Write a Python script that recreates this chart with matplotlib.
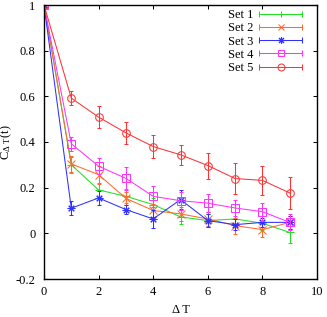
import matplotlib
matplotlib.use("Agg")
import matplotlib.pyplot as plt
from matplotlib.legend_handler import HandlerBase
from matplotlib.lines import Line2D

plt.rcParams['font.family'] = ['Liberation Serif', 'DejaVu Serif']
plt.rcParams['mathtext.default'] = 'regular'
plt.rcParams['font.size'] = 9

dt = [0, 1, 2, 3, 4, 5, 6, 7, 8, 9]

set1 = [1.0, 0.30, 0.19, 0.162, 0.126, 0.072, 0.056, 0.063, 0.044, 0.004]
set1_err = [0.0, 0.035, 0.03, 0.03, 0.03, 0.03, 0.03, 0.03, 0.03, 0.045]
set2 = [1.0, 0.304, 0.257, 0.153, 0.10, 0.085, 0.063, 0.034, 0.016, 0.048]
set2_err = [0.0, 0.035, 0.04, 0.03, 0.03, 0.03, 0.03, 0.035, 0.03, 0.03]
set3 = [1.0, 0.11, 0.155, 0.104, 0.063, 0.148, 0.056, 0.038, 0.048, 0.048]
set3_err = [0.0, 0.03, 0.03, 0.02, 0.04, 0.042, 0.03, 0.025, 0.02, 0.03]
set4 = [1.0, 0.392, 0.294, 0.241, 0.162, 0.143, 0.132, 0.111, 0.095, 0.048]
set4_err = [0.0, 0.03, 0.035, 0.05, 0.045, 0.04, 0.04, 0.035, 0.04, 0.035]
set5 = [1.0, 0.592, 0.509, 0.44, 0.38, 0.344, 0.297, 0.24, 0.232, 0.177]
set5_err = [0.0, 0.03, 0.047, 0.047, 0.05, 0.045, 0.057, 0.067, 0.065, 0.07]

labels = ['Set 1', 'Set 2', 'Set 3', 'Set 4', 'Set 5']
colors = ['#22e022', '#ff6a30', '#3030ff', '#ff33ff', '#ff3333']
markers = ['+', 'x', (8, 2, 0), 's', 'o']

xticks = [0, 2, 4, 6, 8, 10]
yticks = [-0.2, 0, 0.2, 0.4, 0.6, 0.8, 1]
yticklabels = ['-0.2', '0', '0.2', '0.4', '0.6', '0.8', '1']


class GnuplotErrHandler(HandlerBase):
    # gnuplot-style key: horizontal line with end caps, marker in the middle
    def create_artists(self, legend, orig, xd, yd, w, h, fontsize, trans):
        c = orig.get_color()
        y = yd + h / 2
        line = Line2D([xd, xd + w], [y, y], color=c, lw=0.75, transform=trans)
        caps = Line2D([xd, xd + w], [y, y], color=c, lw=0, marker='|',
                      markersize=4, markeredgewidth=0.75, transform=trans)
        mk = Line2D([xd + w / 2], [y], color=c, lw=0, marker=orig.get_marker(),
                    markersize=5, markerfacecolor='none',
                    markeredgecolor=c, markeredgewidth=0.75, transform=trans)
        return [line, caps, mk]


fig = plt.figure(figsize=(3.27, 3.17), dpi=100)
ax = fig.add_axes([44 / 327, 38 / 317, 273 / 327, 274 / 317])

data = [(set1, set1_err), (set2, set2_err), (set3, set3_err),
        (set4, set4_err), (set5, set5_err)]
handles = []
for (vals, errs), lab, col, mk in zip(data, labels, colors, markers):
    ax.errorbar(dt, vals, yerr=errs, color=col, lw=0.75, elinewidth=0.75,
                capsize=1.6, capthick=0.75, fmt='none')
    ln, = ax.plot(dt, vals, color=col, lw=0.75, marker=mk, markersize=5.5,
                  markerfacecolor='none', markeredgecolor=col,
                  markeredgewidth=0.75, label=lab)
    handles.append(ln)

ax.set_xlim(0, 10)
ax.set_ylim(-0.2, 1)
ax.set_xticks(xticks)
ax.set_xticklabels([str(t) for t in xticks])
ax.set_yticks(yticks)
ax.set_yticklabels(yticklabels)
ax.tick_params(direction='in', top=True, right=True, length=3, width=0.75,
               labelsize=9)
ax.tick_params(axis='y', pad=6)
ax.tick_params(axis='x', pad=5)
for s in ax.spines.values():
    s.set_linewidth(1.0)

ax.set_xlabel('\u0394 T', labelpad=4.5)
ax.set_ylabel('$C_{\\Delta\\ T}(t)$', labelpad=1)

ax.legend(handles=handles, labels=labels, loc='upper right',
          bbox_to_anchor=(0.945, 0.985), frameon=False, markerfirst=False,
          handlelength=3.4, handletextpad=0.45, labelspacing=0.1,
          borderpad=0, borderaxespad=0,
          handler_map={Line2D: GnuplotErrHandler()})

fig.savefig('out.png', dpi=100)
